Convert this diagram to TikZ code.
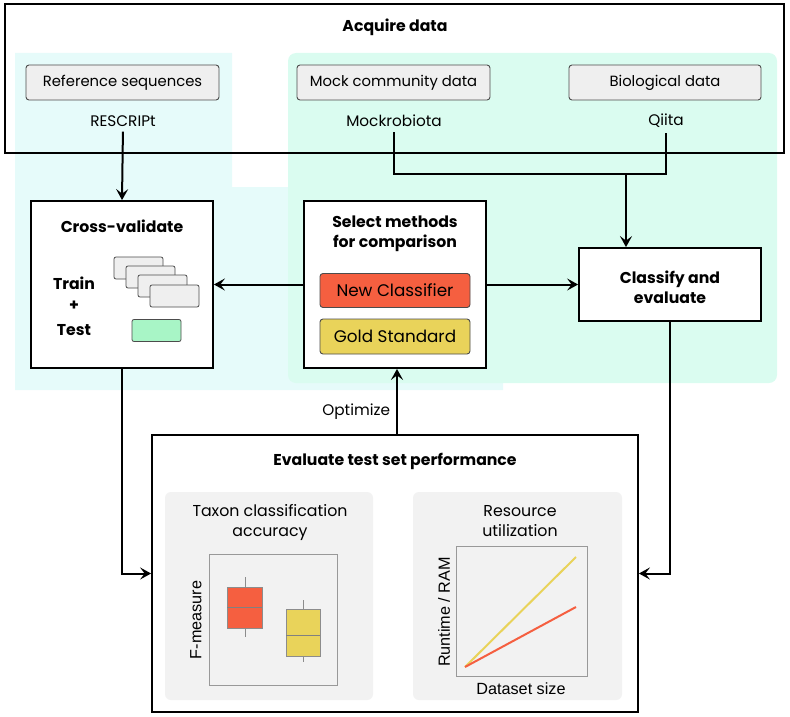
\documentclass[tikz,border=0pt]{standalone}
\usepackage{fontspec}
\setmainfont{Poppins}
\newfontfamily\arialf{Liberation Sans}
\usetikzlibrary{arrows.meta}
\definecolor{cyanbg}{HTML}{E6FBFA}
\definecolor{mintbg}{HTML}{DAFCF0}
\definecolor{cardgray}{HTML}{EFEFEF}
\definecolor{panelgray}{HTML}{F2F2F2}
\definecolor{newred}{HTML}{F55F40}
\definecolor{gold}{HTML}{E9D35A}
\definecolor{testgreen}{HTML}{A8F5C6}
\tikzset{
  bigbox/.style={draw=black, line width=1.8pt, fill=white},
  graybox/.style={draw=black!70, line width=0.9pt, fill=cardgray, rounded corners=3pt, font=\fontsize{14.8}{17}\selectfont},
  plain/.style={font=\fontsize{15.3}{18}\selectfont, inner sep=0pt},
  titletext/.style={font=\fontsize{15.7}{20}\selectfont\bfseries, align=center, inner sep=0pt},
  methodbox/.style={draw=black!70, line width=0.9pt, rounded corners=3pt, minimum width=150pt, font=\fontsize{16.8}{19}\selectfont},
  card/.style={draw=black!70, line width=0.8pt, fill=cardgray, rounded corners=2pt, minimum width=49pt, minimum height=22pt, inner sep=0pt},
  panel/.style={fill=panelgray, rounded corners=6pt, inner sep=0pt},
  frame/.style={draw=black!40, line width=0.9pt, fill=panelgray, inner sep=0pt},
  conn/.style={line width=2pt, black},
  arr/.style={conn, -{Stealth[length=11pt,width=12pt,inset=4.5pt]}},
  axislabel/.style={font=\arialf\fontsize{16.2}{18}\selectfont, inner sep=0pt},
}
\begin{document}
\begin{tikzpicture}[x=1pt,y=-1pt]
\useasboundingbox (0,0) rectangle (790,717);
% background regions
\fill[cyanbg] (15,53) -- (232,53) -- (232,187) -- (503,187) -- (503,390) -- (15,390) -- cycle;
\fill[mintbg, rounded corners=8pt] (288,53) rectangle (777,383);
% acquire data box
\draw[line width=1.8pt] (5,4) rectangle (784,153);
\node[titletext] (acq) at (395,27) {Acquire data};
\node[graybox, minimum width=193pt, minimum height=35pt] (refseq) at (122.5,82.5) {Reference sequences};
\node[graybox, minimum width=193pt, minimum height=35pt] (mockd) at (393.5,82.5) {Mock community data};
\node[graybox, minimum width=192pt, minimum height=35pt] (biod) at (665,82.5) {Biological data};
\node[plain] (rescript) at (123,121) {RESCRIPt};
\node[plain] (mockro) at (394,121) {Mockrobiota};
\node[plain] (qiita) at (666,121) {Qiita};
% main boxes
\node[bigbox, minimum width=182pt, minimum height=167pt] (cv) at (122,284.5) {};
\node[titletext] (cvt) at (122,226) {Cross-validate};
\node[titletext] (train) at (74,283) {Train};
\node[titletext] (plus) at (74,306) {+};
\node[titletext] (test) at (74,330) {Test};
\node[card] (c1) at (138.5,268) {};
\node[card] (c2) at (150.5,277) {};
\node[card] (c3) at (162.5,286) {};
\node[card] (c4) at (174.5,296) {};
\node[card, fill=testgreen] (tg) at (156.5,330.5) {};
\node[bigbox, minimum width=182pt, minimum height=167pt] (sel) at (395,284.5) {};
\node[titletext] (selt) at (395,234) {Select methods\\for comparison};
\node[methodbox, fill=newred, minimum height=34pt] (newc) at (395,290.5) {New Classifier};
\node[methodbox, fill=gold, minimum height=35pt] (gold) at (395,336.5) {Gold Standard};
\node[bigbox, minimum width=182pt, minimum height=73pt] (cls) at (670,284.5) {};
\node[titletext] (clst) at (670,287) {Classify and\\evaluate};
% evaluate box
\node[bigbox, minimum width=486pt, minimum height=277pt] (eval) at (395,573.5) {};
\node[titletext] (evalt) at (395,461) {Evaluate test set performance};
\node[panel, minimum width=208pt, minimum height=208pt] (tp) at (269,596) {};
\node[panel, minimum width=209pt, minimum height=208pt] (rp) at (517.5,596) {};
\node[plain, align=center, font=\fontsize{15.8}{20}\selectfont] (tpt) at (270,522) {Taxon classification\\accuracy};
\node[plain, align=center, font=\fontsize{15.8}{20}\selectfont] (rpt) at (520,521) {Resource\\utilization};
% taxon plot
\node[frame, minimum width=128pt, minimum height=131pt] (tf) at (273,619.5) {};
\node[axislabel, rotate=90] (fm) at (196,620) {F-measure};
\draw[black!45, line width=0.8pt] (245,577) -- (245,637);
\draw[black!45, line width=0.8pt] (303,600) -- (303,662);
\draw[fill=newred, draw=black!45, line width=0.8pt] (227,587) rectangle (262,628);
\draw[black!50, line width=0.8pt] (227,607) -- (262,607);
\draw[fill=gold, draw=black!45, line width=0.8pt] (286,609) rectangle (320,656);
\draw[black!50, line width=0.8pt] (286,635) -- (320,635);
% resource plot
\node[frame, minimum width=131pt, minimum height=130pt] (rf) at (521.5,611) {};
\node[axislabel, rotate=90] (rt) at (444,612) {Runtime / RAM};
\node[axislabel] (ds) at (521,689) {Dataset size};
\draw[gold, line width=2pt] (465,667) -- (576,557);
\draw[newred, line width=2pt] (465,667) -- (576,607);
% connectors
\coordinate (junc) at (626,174);
\draw[arr, shorten <=5pt] (rescript.south) -- (cv.north);
\draw[conn, shorten <=5pt] (mockro.south) |- (junc);
\draw[conn, shorten <=5pt] (qiita.south) |- (junc);
\draw[arr] (junc) -- (junc |- cls.north);
\draw[arr] (sel.west) -- (cv.east);
\draw[arr] (sel.east) -- (cls.west);
\draw[arr] (cv.south) |- (eval.west);
\draw[arr] (cls.south) |- (eval.east);
\draw[arr] ([xshift=2pt]eval.north) -- ([xshift=2pt]sel.south) node[pos=0.35, left=6pt, plain] (opt) {Optimize};
\end{tikzpicture}
\end{document}
